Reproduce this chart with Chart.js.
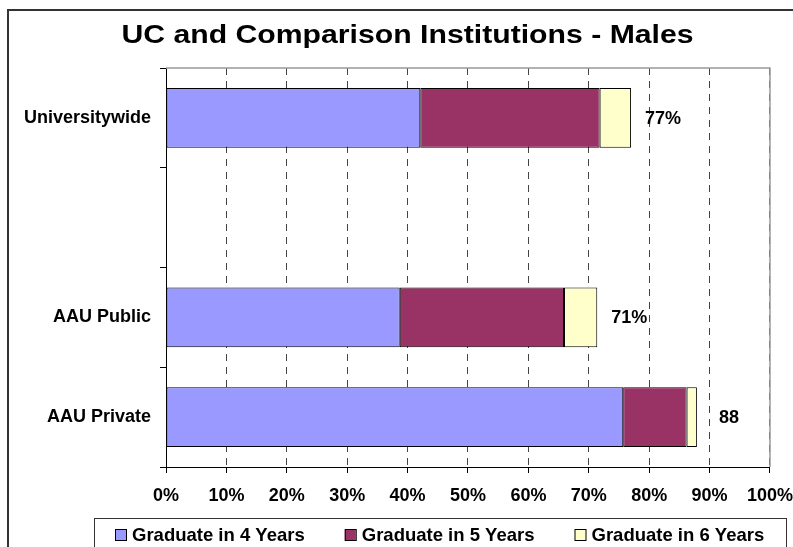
<!DOCTYPE html>
<html>
<head>
<meta charset="utf-8">
<title>UC and Comparison Institutions - Males</title>
<script src="https://cdn.jsdelivr.net/npm/chart.js@4.4.1/dist/chart.umd.min.js"></script>
<style>
  html, body { margin: 0; padding: 0; background: #fff; overflow: hidden; }
  #wrap { width: 793px; height: 547px; overflow: hidden; }
</style>
</head>
<body>
<div id="wrap"><canvas id="gradChart" width="805" height="547"></canvas></div>
<script>
// chart data (percent of male entering cohort)
const chartTitle = 'UC and Comparison Institutions - Males';
const categories = ['Universitywide', '', 'AAU Public', 'AAU Private'];
const grad4Years = [42.1, null, 38.7, 75.7];
const grad5Years = [29.7, null, 27.2, 10.5];
const grad6Years = [5.2, null, 5.5, 1.7];
const totalLabels = ['77%', '', '71%', '88'];
const seriesNames = ['Graduate in 4 Years', 'Graduate in 5 Years', 'Graduate in 6 Years'];
const seriesColors = ['#9999FF', '#993366', '#FFFFCC'];

const boldFont = '"Liberation Sans", Arial, sans-serif';

// white background, outer frame, plot edge, title and legend
const framePlugin = {
  id: 'frame',
  beforeDraw(chart) {
    const ctx = chart.ctx;
    ctx.save();
    ctx.fillStyle = '#fff';
    ctx.fillRect(0, 0, chart.width, chart.height);
    ctx.strokeStyle = '#333';
    ctx.lineWidth = 2;
    ctx.beginPath();
    ctx.moveTo(8, chart.height + 5);
    ctx.lineTo(8, 10);
    ctx.lineTo(chart.width + 5, 10);
    ctx.stroke();
    ctx.restore();
  },
  afterDraw(chart) {
    const ctx = chart.ctx;
    const area = chart.chartArea;
    ctx.save();
    // grey top/right edge of the plot area
    ctx.strokeStyle = '#999';
    ctx.lineWidth = 1.5;
    ctx.beginPath();
    ctx.moveTo(area.left, area.top);
    ctx.lineTo(area.right, area.top);
    ctx.lineTo(area.right, area.bottom);
    ctx.stroke();

    // title, drawn a bit wide like the original
    ctx.font = 'bold 25.6px ' + boldFont;
    ctx.fillStyle = '#000';
    ctx.textAlign = 'center';
    ctx.textBaseline = 'alphabetic';
    ctx.translate(407.5, 43.3);
    ctx.scale(1.18, 1);
    ctx.fillText(chartTitle, 0, 0);
    ctx.restore();

    // legend in a box along the bottom
    ctx.save();
    ctx.strokeStyle = '#333';
    ctx.lineWidth = 1;
    ctx.strokeRect(94.5, 518.5, 692, 60);
    ctx.font = 'bold 18.5px ' + boldFont;
    ctx.textBaseline = 'alphabetic';
    ctx.textAlign = 'left';
    let x = 115;
    chart.data.datasets.forEach(ds => {
      ctx.fillStyle = ds.backgroundColor;
      ctx.fillRect(x, 529.5, 11, 11);
      ctx.strokeStyle = '#000';
      ctx.strokeRect(x + 0.5, 529.5, 11, 11);
      ctx.fillStyle = '#000';
      ctx.fillText(ds.label, x + 17, 541);
      x += 17 + ctx.measureText(ds.label).width + 40;
    });
    ctx.restore();
  }
};

// total labels to the right of each bar
const totalsPlugin = {
  id: 'totals',
  afterDatasetsDraw(chart) {
    const ctx = chart.ctx;
    const xs = chart.scales.x;
    const ys = chart.scales.y;
    ctx.save();
    ctx.font = 'bold 18px ' + boldFont;
    ctx.fillStyle = '#000';
    ctx.textAlign = 'center';
    ctx.textBaseline = 'middle';
    categories.forEach((c, i) => {
      if (!totalLabels[i]) return;
      const total = (grad4Years[i] || 0) + (grad5Years[i] || 0) + (grad6Years[i] || 0);
      ctx.fillText(totalLabels[i], xs.getPixelForValue(total + 5.3), ys.getPixelForValue(i) + 1);
    });
    ctx.restore();
  }
};

const ctx = document.getElementById('gradChart').getContext('2d');
new Chart(ctx, {
  type: 'bar',
  data: {
    labels: categories,
    datasets: [
      { label: seriesNames[0], data: grad4Years, backgroundColor: seriesColors[0] },
      { label: seriesNames[1], data: grad5Years, backgroundColor: seriesColors[1] },
      { label: seriesNames[2], data: grad6Years, backgroundColor: seriesColors[2] }
    ].map(d => Object.assign(d, {
      borderColor: '#000',
      borderWidth: 1,
      borderSkipped: false,
      categoryPercentage: 1,
      barPercentage: 0.6
    }))
  },
  options: {
    indexAxis: 'y',
    responsive: false,
    animation: false,
    layout: { padding: { left: 10, right: 0, top: 68, bottom: 40 } },
    plugins: {
      title: { display: false },
      tooltip: { enabled: false },
      legend: { display: false }
    },
    scales: {
      x: {
        stacked: true,
        min: 0,
        max: 100,
        afterFit(scale) { scale.height = 40; },
        ticks: {
          stepSize: 10,
          color: '#000',
          padding: 12,
          maxRotation: 0,
          font: { family: boldFont, size: 18, weight: 'bold' },
          callback: v => v + '%'
        },
        grid: {
          color: '#444',
          lineWidth: 1,
          tickBorderDash: [],
          tickColor: '#000',
          tickLength: 6
        },
        border: { display: true, color: '#000', width: 1, dash: [7, 6] }
      },
      y: {
        stacked: true,
        afterFit(scale) { scale.width = 156; },
        ticks: {
          color: '#000',
          padding: 9,
          font: { family: boldFont, size: 18, weight: 'bold' }
        },
        grid: {
          offset: true,
          drawOnChartArea: false,
          tickLength: 6,
          tickColor: '#000'
        },
        border: { display: true, color: '#000', width: 1 }
      }
    }
  },
  plugins: [framePlugin, totalsPlugin]
});
</script>
</body>
</html>
